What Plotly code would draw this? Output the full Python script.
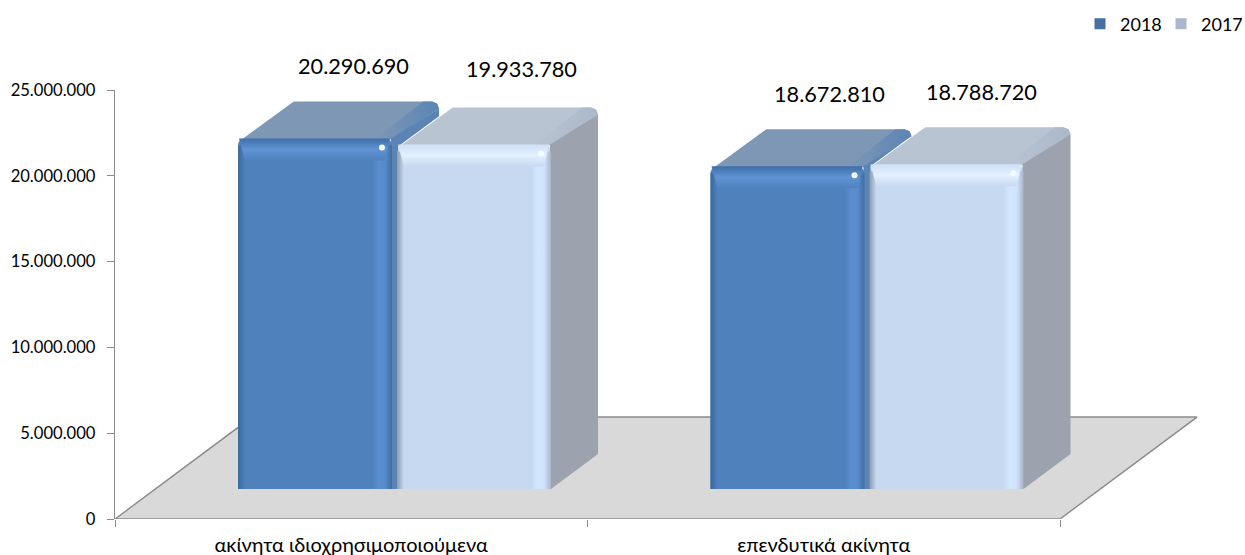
import plotly.graph_objects as go

categories = ["ακίνητα ιδιοχρησιμοποιούμενα", "επενδυτικά ακίνητα"]
years = ["2018", "2017"]
values_2018 = [20290690, 18672810]
values_2017 = [19933780, 18788720]
y_ticks = [0, 5000000, 10000000, 15000000, 20000000, 25000000]

FONT = "Lato, 'Noto Sans', sans-serif"
L, R, T, B = 115, 1060, 90, 519          # category axis spans L..R in page pixels
X_PER_UNIT = (R - L) / 2
Y_PER_UNIT = 17.28 / 1e6                 # scale of the bars' front plane
FRONT_LIFT = 30                          # front plane sits above the axis
Y_TOP_RANGE = 25000000


def ux(px):
    return px / X_PER_UNIT


def uy(px):
    return px / Y_PER_UNIT


BAR_W = ux(154)
OFFSETS = {"2018": ux(123) - 0.5, "2017": ux(282) - 0.5}
DX, DY = ux(47), uy(37)
DX_LEFT = ux(53)

STYLE = {
    "2018": dict(front="#4f81bd", top="#7d97b5", top_edge="#5b84b5", side="#5b84b5",
                 left=["#3a689f", "#4f81bd"],
                 right=["#4f81bd", "#5a8dd0", "#588bcb", "#3f6ca2"],
                 head=["#3e6ea8", "#5f93d4", "#4f81bd"]),
    "2017": dict(front="#c6d9f1", top="#b9c4d2", top_edge="#aab8c9", side="#9ca3af",
                 left=["#8d9cb0", "#c6d9f1"],
                 right=["#c6d9f1", "#d3e7ff", "#cfe3fd", "#a9b5c6"],
                 head=["#cfe0f6", "#e3f1ff", "#c6d9f1"]),
}
LEGEND_COLORS = {"2018": "#46709f", "2017": "#a9b8cc"}

centres = [0.5, 1.5]
fig = go.Figure()

# floor of the 3D chart, on the visible axes
fx = [0, 2, 2 + ux(137), ux(137), 0]
fy0 = 5940000
fig.add_trace(go.Scatter(x=fx, y=[0, 0, fy0, fy0, 0], mode="lines", fill="toself",
                         fillcolor="#d9d9d9", line=dict(color="#8a8a8a", width=1.4),
                         showlegend=False, hoverinfo="skip", cliponaxis=False))

series = {"2018": values_2018, "2017": values_2017}
for yr in years:
    fig.add_trace(go.Bar(x=centres, y=series[yr], name=yr, yaxis="y2", showlegend=False,
                         width=BAR_W, offset=OFFSETS[yr],
                         marker=dict(color=STYLE[yr]["front"], cornerradius=7, line=dict(width=0)),
                         hoverinfo="skip"))
    fig.add_trace(go.Scatter(x=[None], y=[None], name=yr, mode="markers",
                             marker=dict(symbol="square", size=11, color=LEGEND_COLORS[yr])))


def poly(xs, ys, color=None, gradient=None):
    kw = dict(fillcolor=color) if color else dict(fillgradient=gradient)
    fig.add_trace(go.Scatter(x=xs, y=ys, yaxis="y2", mode="none", fill="toself",
                             showlegend=False, hoverinfo="skip", cliponaxis=False, **kw))


def ramp(cols):
    n = len(cols) - 1
    return [[i / n, c] for i, c in enumerate(cols)]


for i, c in enumerate(centres):
    for yr in years:
        s = STYLE[yr]
        v = series[yr][i]
        x0 = c + OFFSETS[yr]
        x1 = x0 + BAR_W
        r = ux(7)
        rv = uy(7)
        # top face with softly rounded corners
        poly([x0 + ux(1), x0 + DX_LEFT, x0 + DX_LEFT + ux(3), x1 + DX - r, x1 + DX - ux(2), x1 + DX,
              x1 + DX - ux(2), x1, x0 + ux(4), x0 + ux(1)],
             [v - uy(3), v + DY - uy(2), v + DY, v + DY, v + DY - uy(2), v + DY - rv,
              v + DY - uy(8), v - uy(1), v - uy(1), v - uy(3)],
             color=s["top"])
        # bevel of the right edge of the top face
        poly([x1 - ux(16), x1 + DX - ux(16), x1 + DX - r, x1 + DX - ux(2), x1 + DX, x1],
             [v, v + DY, v + DY, v + DY - uy(2), v + DY - rv, v],
             gradient=dict(type="horizontal", colorscale=[[0, s["top"]], [1, s["top_edge"]]]))
        # side face; the first bar of a pair is cut where its neighbour starts
        if yr == "2018":
            other = c + OFFSETS["2017"]
            vo = values_2017[i]
            poly([x1 - ux(1), x1 - ux(1), x1 + DX, x1 + DX, other + ux(1), other + ux(1)],
                 [0, v, v + DY - rv, vo + DY * ((x1 + DX - other) / DX_LEFT) - uy(1), vo - uy(2), 0],
                 color=s["side"])
        else:
            poly([x1 - ux(1), x1 - ux(1), x1 + DX, x1 + DX, x1],
                 [0, v, v + DY - rv, uy(35), 0], color=s["side"])
        # rounded-edge shading of the front face
        poly([x0, x0 + ux(7), x0 + ux(7), x0], [0, 0, v - rv, v - rv],
             gradient=dict(type="horizontal", colorscale=ramp(s["left"])))
        poly([x1 - ux(20), x1, x1, x1 - ux(20)], [0, 0, v - rv, v - rv],
             gradient=dict(type="horizontal", colorscale=ramp(s["right"])))
        poly([x0 + ux(1), x1 - ux(2), x1 - ux(7), x0 + ux(7)],
             [v, v, v - uy(22), v - uy(22)],
             gradient=dict(type="vertical", start=v, stop=v - uy(22), colorscale=ramp(s["head"])))
        fig.add_trace(go.Scatter(x=[x1 - ux(10)], y=[v - uy(9)], yaxis="y2", mode="markers",
                                 marker=dict(color="#f5faff", size=6, line=dict(width=0)),
                                 showlegend=False, hoverinfo="skip"))

# data labels
label_shift = {"2018": [38, 42], "2017": [47, 35]}
label_lift = {"2018": [72, 72], "2017": [76, 72]}
for yr in years:
    for i, c in enumerate(centres):
        v = series[yr][i]
        fig.add_annotation(x=c + OFFSETS[yr] + BAR_W / 2, y=v, yref="y2",
                           text=f"{v:,}".replace(",", "."), showarrow=False,
                           xshift=label_shift[yr][i], yshift=label_lift[yr][i],
                           font=dict(family=FONT, size=21.7, color="#000000"))

axis_grey = "#8a8a8a"
fig.update_layout(
    width=1245, height=555,
    margin=dict(l=L, r=0, t=T, b=555 - B, autoexpand=False),
    paper_bgcolor="white", plot_bgcolor="rgba(0,0,0,0)",
    separators=",.",
    barmode="overlay",
    font=dict(family=FONT, size=16, color="#000000"),
    xaxis=dict(range=[0, (1245 - L) / X_PER_UNIT], tickmode="array", tickvals=centres, ticktext=categories,
               ticks="", showgrid=False, zeroline=False, showline=False,
               tickfont=dict(size=20), ticklabelstandoff=12,
               minor=dict(tickmode="array", tickvals=[0, 1, 2], ticks="outside",
                          ticklen=7, tickcolor=axis_grey, tickwidth=1.4, showgrid=False)),
    yaxis=dict(range=[0, Y_TOP_RANGE], tickmode="array", tickvals=y_ticks, tickformat=",d",
               ticks="outside", ticklen=7, tickcolor=axis_grey, tickwidth=1.4, showgrid=False,
               zeroline=False, showline=True, linecolor=axis_grey, linewidth=1.4,
               tickfont=dict(size=16.6), ticklabelstandoff=8),
    yaxis2=dict(overlaying="y", side="left", visible=False, showgrid=False, zeroline=False,
                range=[-FRONT_LIFT / Y_PER_UNIT, (B - T - FRONT_LIFT) / Y_PER_UNIT]),
    legend=dict(orientation="h", x=1.0 - 3 / (1245 - L), xanchor="right", y=1 + 66 / (B - T), yanchor="middle",
                font=dict(size=18), traceorder="normal", bgcolor="rgba(0,0,0,0)",
                itemwidth=30, tracegroupgap=0, entrywidth=36, entrywidthmode="pixels"),
)
fig.write_html("out.html", post_script="document.body.style.margin='0';",
               config=dict(displayModeBar=False))
